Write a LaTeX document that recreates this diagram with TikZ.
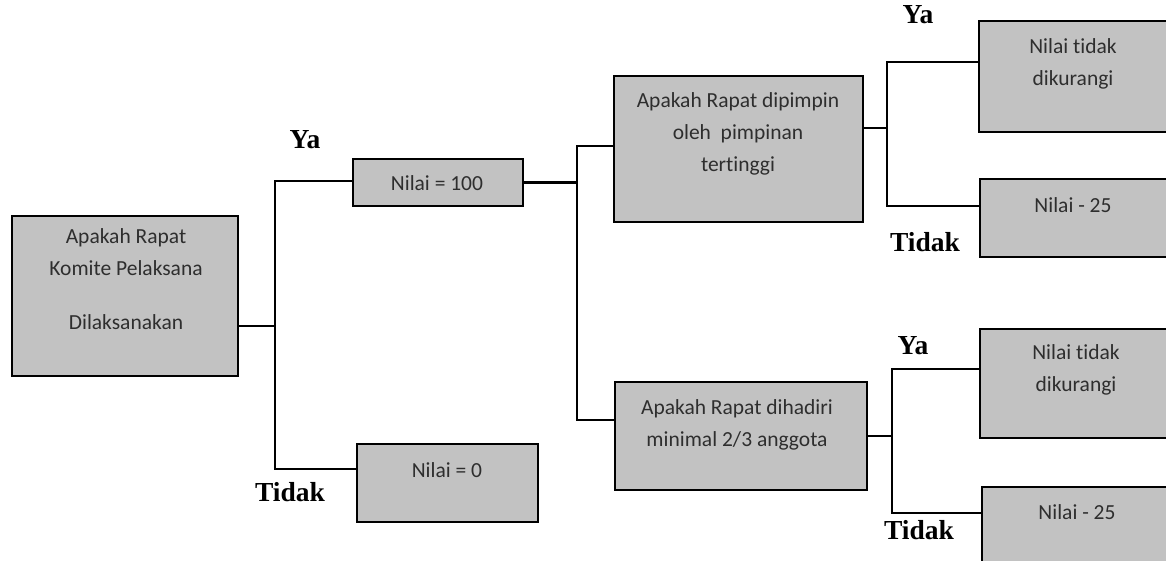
\documentclass[tikz,border=0pt]{standalone}
\usepackage{fontspec}
\setmainfont{Liberation Serif}
\newfontfamily\boxfont[Ligatures=NoCommon]{Carlito}
\definecolor{boxfill}{HTML}{C2C2C2}
\definecolor{boxtext}{HTML}{2E2E2E}
\tikzset{
  box/.style={draw=black, line width=2.6pt, fill=boxfill, inner sep=0pt},
  txt/.style={align=center, text=boxtext, inner sep=0pt, font=\boxfont\fontsize{21.5}{32}\selectfont},
  yesno/.style={inner sep=0pt, font=\bfseries\fontsize{27.5}{30}\selectfont},
  wire/.style={draw=black, line width=2.6pt},
}
\begin{document}
\begin{tikzpicture}[x=1pt,y=-1pt]
\clip (0,0) rectangle (1166,561);
\fill[white] (0,0) rectangle (1166,561);

% boxes
\node[box, minimum width=226pt, minimum height=160pt] (root) at (125,296) {};
\node[box, minimum width=170pt, minimum height=47pt] (n100) at (438,182.5) {};
\node[box, minimum width=181pt, minimum height=78pt] (n0) at (447.5,483) {};
\node[box, minimum width=249pt, minimum height=146pt] (q1) at (738.5,149) {};
\node[box, minimum width=252pt, minimum height=108pt] (q2) at (741,436) {};
\node[box, minimum width=200pt, minimum height=111pt] (r1) at (1079,76.5) {};
\node[box, minimum width=200pt, minimum height=78pt] (r2) at (1080,218) {};
\node[box, minimum width=200pt, minimum height=109pt] (r3) at (1080,383.5) {};
\node[box, minimum width=200pt, minimum height=90pt] (r4) at (1082,532) {};

% texts
\node[txt] (roott) at (126,279) {Apakah Rapat\\Komite Pelaksana\\[22pt]Dilaksanakan};
\node[txt] (n100t) at (437,183) {Nilai = 100};
\node[txt] (n0t) at (447,470) {Nilai = 0};
\node[txt] (q1t) at (738,133.5) {Apakah Rapat dipimpin\\oleh\ \ pimpinan\\tertinggi};
\node[txt] (q2t) at (737,425) {Apakah Rapat dihadiri\\minimal 2/3 anggota};
\node[txt] (r1t) at (1073,64) {Nilai tidak\\dikurangi};
\node[txt] (r2t) at (1073,205) {Nilai - 25};
\node[txt] (r3t) at (1076,370) {Nilai tidak\\dikurangi};
\node[txt] (r4t) at (1077,512) {Nilai - 25};

% labels
\node[yesno] (ya1) at (305,140) {Ya};
\node[yesno] (tidak1) at (290,492) {Tidak};
\node[yesno] (ya2) at (918,15) {Ya};
\node[yesno] (tidak2) at (925,242) {Tidak};
\node[yesno] (ya3) at (913,346) {Ya};
\node[yesno] (tidak3) at (919,530) {Tidak};

% junctions
\coordinate (j1) at (275,326);
\coordinate (j2) at (577,182.5);
\coordinate (j3) at (887,128);
\coordinate (j4) at (892,436);

% connectors
\draw[wire] ([yshift=-30pt]root.east) -- (j1);
\draw[wire] (j1) |- ([yshift=1.5pt]n100.west);
\draw[wire] (j1) |- ([yshift=14pt]n0.west);
\draw[wire] (n100.east) -- (j2);
\draw[wire] (j2) |- ([yshift=3pt]q1.west);
\draw[wire] (j2) |- ([yshift=16pt]q2.west);
\draw[wire] ([yshift=21pt]q1.east) -- (j3);
\draw[wire] (j3) |- ([yshift=14.5pt]r1.west);
\draw[wire] (j3) |- ([yshift=12pt]r2.west);
\draw[wire] (q2.east) -- (j4);
\draw[wire] (j4) |- ([yshift=14.5pt]r3.west);
\draw[wire] (j4) |- ([yshift=19pt]r4.west);
\end{tikzpicture}
\end{document}
